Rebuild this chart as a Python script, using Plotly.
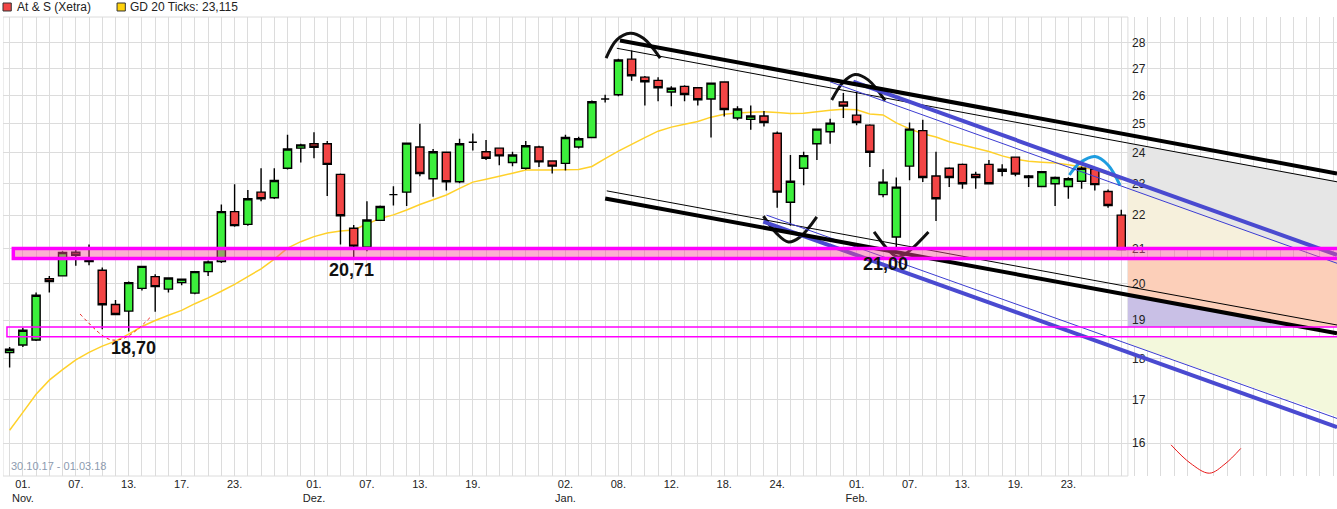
import math
import plotly.graph_objects as go

# ---------------- data ----------------
# trading-day index 0 = 31.10.17 ... 84 = 01.03.18
day_idx = list(range(85))

open_ = [18.16, 18.35, 18.48, 20.13, 20.21, 20.89, 20.67, 20.37, 19.42, 19.24,
         19.86, 20.19, 19.84, 20.02, 19.73, 20.33, 20.62, 22.11, 21.72, 22.72,
         22.54, 23.49, 24.16, 24.31, 24.31, 23.29, 21.60, 21.04, 21.84, 22.64,
         22.72, 24.20, 23.15, 24.02, 23.05, 24.36, 24.04, 24.16, 23.68, 23.49,
         24.20, 23.73, 23.65, 24.20, 24.52, 25.88, 26.03, 27.36, 26.68, 26.56,
         26.13, 26.34, 26.29, 25.88, 26.50, 25.20, 25.15, 25.27, 24.67, 22.40,
         23.49, 24.31, 24.72, 25.77, 25.30, 24.95, 22.64, 21.34, 23.56, 24.76,
         23.24, 23.49, 23.62, 23.29, 23.62, 23.39, 23.86, 23.19, 22.90, 22.99,
         22.90, 23.07, 23.46, 22.74, 22.00]
high = [18.30, 18.80, 19.75, 20.21, 20.92, 20.97, 21.12, 20.45, 19.54, 20.05,
        20.50, 20.26, 20.17, 20.14, 20.35, 20.65, 22.33, 22.97, 22.79, 23.49,
        23.49, 24.62, 24.31, 24.70, 24.40, 23.32, 21.70, 22.43, 22.30, 22.91,
        24.35, 25.00, 24.13, 24.05, 24.48, 24.66, 24.44, 24.18, 24.04, 24.40,
        24.24, 23.75, 24.62, 24.55, 25.82, 26.03, 27.38, 27.69, 26.72, 26.68,
        26.34, 26.38, 26.30, 26.48, 26.52, 25.62, 25.64, 25.45, 24.73, 23.93,
        24.04, 24.83, 25.17, 26.10, 26.15, 24.98, 23.46, 23.19, 25.04, 25.14,
        24.04, 23.52, 23.65, 23.38, 23.76, 23.62, 23.88, 23.27, 23.40, 23.22,
        23.20, 23.55, 23.50, 22.80, 22.17]
low = [17.78, 18.30, 18.45, 19.75, 20.20, 20.50, 20.51, 18.76, 19.13, 18.70,
       19.80, 19.22, 19.75, 19.95, 19.70, 20.21, 20.58, 21.65, 21.68, 22.43,
       22.50, 23.45, 23.68, 23.82, 22.60, 21.12, 20.71, 20.92, 21.82, 22.30,
       22.28, 23.23, 22.57, 22.77, 23.00, 24.08, 23.76, 23.59, 23.56, 23.45,
       23.53, 23.32, 23.42, 24.15, 24.50, 25.75, 25.98, 26.55, 25.64, 25.80,
       25.62, 25.80, 25.64, 24.52, 25.25, 25.12, 24.79, 24.90, 22.23, 21.68,
       22.94, 23.76, 24.31, 25.20, 24.95, 23.53, 22.56, 21.00, 23.10, 23.04,
       21.82, 22.88, 22.83, 22.83, 22.96, 23.23, 23.23, 22.88, 22.88, 22.28,
       22.51, 22.83, 22.77, 22.23, 20.95]
close = [18.24, 18.73, 19.67, 20.05, 20.88, 20.80, 20.62, 19.41, 19.15, 20.02,
         20.48, 19.91, 20.15, 20.12, 20.33, 20.61, 22.11, 21.68, 22.51, 22.51,
         23.09, 24.13, 24.27, 24.19, 23.62, 21.98, 21.07, 21.85, 22.27, 22.64,
         24.33, 23.32, 24.04, 23.05, 24.31, 24.36, 23.82, 23.90, 23.93, 24.24,
         23.70, 23.56, 24.52, 24.48, 25.78, 25.88, 27.33, 26.73, 26.51, 26.29,
         26.27, 26.04, 25.85, 26.46, 25.50, 25.52, 25.27, 25.04, 22.72, 23.07,
         23.91, 24.81, 25.02, 25.62, 25.04, 24.02, 23.04, 22.88, 24.81, 23.19,
         22.51, 23.19, 22.99, 23.19, 22.99, 23.46, 23.30, 23.24, 23.38, 23.19,
         23.15, 23.49, 22.96, 22.30, 20.97]
gd20 = [16.29, 16.70, 17.13, 17.47, 17.73, 17.97, 18.16, 18.32, 18.45, 18.63,
        18.83, 18.99, 19.13, 19.26, 19.44, 19.60, 19.78, 19.97, 20.19, 20.41,
        20.69, 21.01, 21.20, 21.35, 21.46, 21.52, 21.55, 21.73, 21.90, 22.01,
        22.16, 22.33, 22.48, 22.63, 22.84, 23.04, 23.13, 23.23, 23.33, 23.43,
        23.43, 23.43, 23.44, 23.45, 23.55, 23.81, 24.06, 24.29, 24.52, 24.74,
        24.88, 24.98, 25.08, 25.23, 25.33, 25.38, 25.40, 25.42, 25.39, 25.36,
        25.37, 25.42, 25.47, 25.51, 25.49, 25.34, 25.31, 25.03, 24.82, 24.65,
        24.54, 24.38, 24.27, 24.16, 24.05, 23.90, 23.79, 23.72, 23.69, 23.66,
        23.61, 23.53, 23.43, 23.30, 23.115]

tick_idx = [1, 5, 9, 13, 17, 23, 27, 31, 35, 42, 46, 50, 54, 58, 64, 68, 72, 76, 80]
tick_text = ["01.<br>Nov.", "07.", "13.", "17.", "23.", "01.<br>Dez.", "07.", "13.", "19.",
             "02.<br>Jan.", "08.", "12.", "18.", "24.", "01.<br>Feb.", "07.", "13.", "19.", "23."]
price_ticks = list(range(16, 29))

# drawn trend lines: (x0, y0, x1, y1) in (day index, price)
lines_thick_black = [(46.12, 28.08, 100.3, 23.32), (45.0, 22.52, 100.3, 18.65)]
lines_thin_black = [(45.88, 27.78, 100.3, 23.05), (45.12, 22.76, 100.3, 18.87)]
lines_thick_blue = [(63.75, 26.51, 100.3, 20.81), (56.95, 21.80, 100.3, 16.36)]
lines_thin_blue = [(61.99, 26.51, 100.3, 20.57), (57.20, 22.00, 100.3, 16.56)]

# support bands (price levels)
band_main = (0.28, 20.71, 21.00)
band_low = (-0.2, 18.56, 18.82)

# hand-drawn arcs: (x list, y list)
arcs_black = [
    ([45.07, 45.88, 46.89, 47.89, 49.16], [27.40, 28.11, 28.37, 28.17, 27.40]),
    ([62.12, 63.00, 63.88, 64.87, 66.15], [25.84, 26.50, 26.78, 26.58, 25.82]),
    ([56.96, 57.97, 58.85, 59.73, 60.99], [21.97, 21.44, 21.19, 21.34, 21.95]),
    ([65.32, 66.53, 67.14, 67.89, 69.43], [21.49, 20.90, 20.75, 20.90, 21.49]),
]
arc_blue = ([80.08, 80.88, 82.02, 83.00, 83.90], [23.27, 23.67, 23.88, 23.60, 22.94])
arc_red_right = ([87.76, 89.20, 90.65, 91.84, 93.03], [15.96, 15.56, 15.34, 15.54, 15.88])
arc_red_low = ([5.33, 7.35, 8.20, 9.11, 10.62], [19.16, 18.52, 18.48, 18.61, 19.07])

# right-hand channel zones: (x list, y list)
R = 100.6
zones = [
    ("#e6e6e6", [84.5, R, R, 97.17, 84.5], [24.34, 23.05, 21.0, 21.0, 22.84]),
    ("#f6f0dc", [84.5, 97.17, 84.5], [22.84, 21.0, 21.0]),
    ("#fccfb9", [84.5, R, R, 97.65, 84.5], [20.71, 20.71, 18.82, 18.82, 19.68]),
    ("#c9c0e6", [84.5, 97.65, 84.5], [19.68, 18.82, 18.82]),
    ("#f3f8dc", [84.5, R, R, 84.5], [18.56, 18.56, 16.57, 18.38]),
]

labels = [(9.35, 18.27, "18,70"), (25.8, 20.38, "20,71"), (66.2, 20.55, "21,00")]

FONT = "Liberation Sans, Arial, sans-serif"
GRID = "#dcdcdc"

fig = go.Figure()

for col, zx, zy in zones:
    fig.add_trace(go.Scatter(x=zx, y=zy, fill="toself", fillcolor=col, mode="lines",
                             line=dict(width=0), hoverinfo="skip", showlegend=False))

fig.add_trace(go.Candlestick(
    x=day_idx, open=open_, high=high, low=low, close=close, name="At & S (Xetra)",
    increasing=dict(fillcolor="#3cef3c", line=dict(color="#000000", width=1.4)),
    decreasing=dict(fillcolor="#f24545", line=dict(color="#000000", width=1.4)),
    whiskerwidth=0, showlegend=False))

for ax_, ay_ in arcs_black:
    fig.add_trace(go.Scatter(x=ax_, y=ay_, mode="lines", line=dict(color="#111111", width=3, shape="spline"),
                             showlegend=False, hoverinfo="skip"))
fig.add_trace(go.Scatter(x=arc_blue[0], y=arc_blue[1], mode="lines",
                         line=dict(color="#1e9de0", width=3, shape="spline"), showlegend=False, hoverinfo="skip"))
fig.add_trace(go.Scatter(x=arc_red_right[0], y=arc_red_right[1], mode="lines",
                         line=dict(color="#e81818", width=1, shape="spline"), showlegend=False, hoverinfo="skip"))
fig.add_trace(go.Scatter(x=arc_red_low[0], y=arc_red_low[1], mode="lines",
                         line=dict(color="#e81818", width=1, shape="spline", dash="dot"), showlegend=False,
                         hoverinfo="skip"))

shapes = []
# cover grid in the right-hand extension, then frame of the chart area
shapes.append(dict(type="rect", xref="x", yref="paper", x0=84.5, x1=101, y0=0, y1=1,
                   fillcolor="white", line=dict(width=0), layer="between"))
shapes.append(dict(type="rect", xref="x", yref="paper", x0=-0.5, x1=84.5, y0=0, y1=1,
                   line=dict(color=GRID, width=1), layer="between"))

# GD 20 moving average drawn behind the candles (path in data coordinates)
ma_path = "M " + " L ".join("%s,%s" % (xv, yv) for xv, yv in zip(day_idx, gd20))
shapes.append(dict(type="path", xref="x", yref="y", path=ma_path,
                   line=dict(color="#ffd12a", width=1.5), layer="between"))

for (x0, y0, x1, y1) in lines_thin_black:
    shapes.append(dict(type="line", xref="x", yref="y", x0=x0, y0=y0, x1=x1, y1=y1,
                       line=dict(color="#000000", width=1)))
for (x0, y0, x1, y1) in lines_thin_blue:
    shapes.append(dict(type="line", xref="x", yref="y", x0=x0, y0=y0, x1=x1, y1=y1,
                       line=dict(color="#3c3cd2", width=1)))
for (x0, y0, x1, y1) in lines_thick_blue:
    shapes.append(dict(type="line", xref="x", yref="y", x0=x0, y0=y0, x1=x1, y1=y1,
                       line=dict(color="#4a4ad0", width=4)))
for (x0, y0, x1, y1) in lines_thick_black:
    shapes.append(dict(type="line", xref="x", yref="y", x0=x0, y0=y0, x1=x1, y1=y1,
                       line=dict(color="#000000", width=4)))

shapes.append(dict(type="rect", xref="x", yref="y", x0=band_main[0], x1=102,
                   y0=band_main[1], y1=band_main[2],
                   fillcolor="rgba(246,80,150,0.45)", line=dict(color="#ff00ff", width=3.5)))
shapes.append(dict(type="rect", xref="x", yref="y", x0=band_low[0], x1=102,
                   y0=band_low[1], y1=band_low[2],
                   fillcolor="rgba(0,0,0,0)", line=dict(color="#ff00ff", width=1.5)))

# legend squares (paper coords)
shapes.append(dict(type="rect", xref="paper", yref="paper", x0=0.0, x1=0.0062, y0=1.0131, y1=1.0305,
                   fillcolor="#f24545", line=dict(color="#333333", width=1)))
shapes.append(dict(type="rect", xref="paper", yref="paper", x0=0.0855, x1=0.0917, y0=1.0131, y1=1.0305,
                   fillcolor="#ffd20a", line=dict(color="#333333", width=1)))

annotations = []
annotations.append(dict(xref="paper", yref="paper", x=0.0090, y=1.0207, xanchor="left", yanchor="middle",
                        text="At & S (Xetra)", showarrow=False, font=dict(family=FONT, size=12, color="#222222")))
annotations.append(dict(xref="paper", yref="paper", x=0.0940, y=1.0207, xanchor="left", yanchor="middle",
                        text="GD 20 Ticks: 23,115", showarrow=False,
                        font=dict(family=FONT, size=12, color="#222222")))
annotations.append(dict(xref="paper", yref="paper", x=0.0045, y=0.0218, xanchor="left", yanchor="middle",
                        text="30.10.17 - 01.03.18", showarrow=False,
                        font=dict(family=FONT, size=11, color="#8c9bb0")))
for lx, ly, lt in labels:
    annotations.append(dict(xref="x", yref="y", x=lx, y=math.log10(ly), text="<b>" + lt + "</b>",
                            showarrow=False, xanchor="center", yanchor="middle",
                            font=dict(family=FONT, size=18, color="#111111")))

fig.update_layout(
    width=1337, height=509,
    margin=dict(l=3, r=0, t=17, b=33),
    paper_bgcolor="white", plot_bgcolor="white",
    showlegend=False, boxgap=0.12,
    font=dict(family=FONT, color="#222222"),
    shapes=shapes, annotations=annotations,
    xaxis=dict(range=[-0.5, 100.3], tickmode="array", tickvals=tick_idx, ticktext=tick_text,
               showgrid=True, gridcolor=GRID, gridwidth=1, zeroline=False, showline=False,
               ticks="", tickfont=dict(family=FONT, size=11, color="#222222"),
               minor=dict(tickmode="linear", tick0=0, dtick=1, showgrid=True, gridcolor=GRID, gridwidth=1),
               rangeslider=dict(visible=False), fixedrange=True),
    yaxis=dict(type="log", range=[1.18412, 1.46270], tickmode="array", tickvals=price_ticks,
               ticktext=[str(v) for v in price_ticks], side="right", anchor="free", position=0.8433,
               showgrid=True, gridcolor=GRID, gridwidth=1, zeroline=False, showline=False, ticks="",
               ticklabelstandoff=3,
               tickfont=dict(family=FONT, size=12, color="#222222"), fixedrange=True),
)

fig.write_html("out.html", config={"displayModeBar": False},
               post_script="document.body.style.margin='0px';")
